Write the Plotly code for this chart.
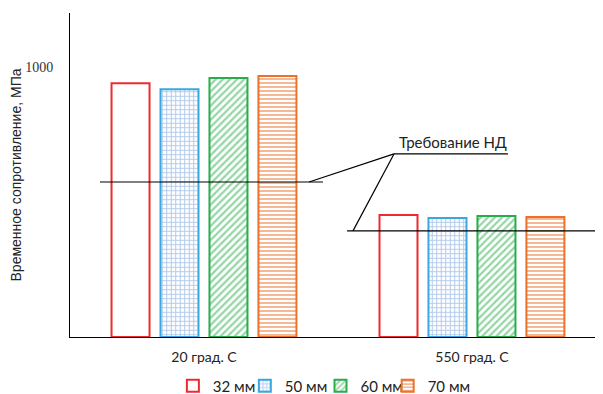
import plotly.graph_objects as go

categories = ["20 град. С", "550 град. С"]
series_names = ["32 мм", "50 мм", "60 мм", "70 мм"]
values_32 = [940, 452]
values_50 = [918, 441]
values_60 = [959, 448]
values_70 = [967, 444]
requirement = [574, 393]
y_tick_vals = [1000]
y_tick_text = ["1000"]
y_title = "Временное сопротивление, МПа"
annotation_text = "Требование НД"

series_values = [values_32, values_50, values_60, values_70]
line_colors = ["#EE2A2E", "#3AA8E0", "#27AE4B", "#EA722A"]
patterns = [
    dict(shape=""),
    dict(shape="+", fgcolor="#5F92D4", bgcolor="white", size=4.5, solidity=0.4),
    dict(shape="/", fgcolor="#27AE4B", bgcolor="white", size=5, solidity=0.45),
    dict(shape="-", fgcolor="#EA722A", bgcolor="white", size=4, solidity=0.5),
]
legend_names = ["legend", "legend2", "legend3", "legend4"]
legend_x = [0.193, 0.328, 0.470, 0.596]

TEXT_FONT = "Lato, 'Open Sans', sans-serif"

fig = go.Figure()
for name, vals, col, pat, lg in zip(series_names, series_values, line_colors, patterns, legend_names):
    fig.add_trace(go.Bar(
        x=categories, y=vals, name=name, legend=lg,
        marker=dict(color="white", line=dict(color=col, width=2), pattern=pat),
    ))

# requirement lines
spans = [(-0.388, 0.444), (-0.466, 0.466)]
for i, (req, (a, b)) in enumerate(zip(requirement, spans)):
    fig.add_shape(type="line", xref="x", yref="y", x0=i + a, x1=i + b, y0=req, y1=req,
                  line=dict(color="black", width=1.2))

# annotation leader lines
hub_x, hub_y = 0.709, 678
fig.add_shape(type="line", xref="x", yref="y", x0=hub_x, x1=1.134, y0=hub_y, y1=hub_y,
              line=dict(color="black", width=1.2))
fig.add_shape(type="line", xref="x", yref="y", x0=0.392, x1=hub_x, y0=requirement[0], y1=hub_y,
              line=dict(color="black", width=1.2))
fig.add_shape(type="line", xref="x", yref="y", x0=0.556, x1=hub_x, y0=requirement[1], y1=hub_y,
              line=dict(color="black", width=1.2))
fig.add_annotation(x=0.929, y=hub_y, xref="x", yref="y", text=annotation_text, showarrow=False,
                   yanchor="bottom", yshift=1, font=dict(family=TEXT_FONT, size=15, color="#222"))

legend_common = dict(orientation="h", xanchor="left", y=-0.151, yanchor="middle",
                     font=dict(family=TEXT_FONT, size=15, color="#222"), bgcolor="rgba(0,0,0,0)")

# page body adds an 8px offset; margins compensate so the plot lands where the reference has it
fig.update_layout(
    width=603, height=394,
    margin=dict(l=62, r=8, t=5, b=65, autoexpand=False),
    plot_bgcolor="white", paper_bgcolor="white",
    barmode="group", bargap=0.269, bargroupgap=0.224,
    showlegend=True,
    legend=dict(x=legend_x[0], **legend_common),
    legend2=dict(x=legend_x[1], **legend_common),
    legend3=dict(x=legend_x[2], **legend_common),
    legend4=dict(x=legend_x[3], **legend_common),
    xaxis=dict(type="category", range=[-0.5, 1.489], showline=True, linecolor="black", linewidth=1,
               showgrid=False, ticks="", ticklabelstandoff=7, automargin=False,
               tickfont=dict(family=TEXT_FONT, size=14, color="#222")),
    yaxis=dict(range=[0, 1200], tickvals=y_tick_vals, ticktext=y_tick_text, automargin=False,
               showline=True, linecolor="black", linewidth=1, showgrid=False, zeroline=False,
               ticks="", ticklabelstandoff=13,
               tickfont=dict(family="'Liberation Serif', 'DejaVu Serif', serif", size=14, color="#333"),
               title=dict(text=y_title, standoff=0,
                          font=dict(family="'Liberation Sans', Arial, sans-serif", size=14, color="#222"))),
)

fig.write_html("out.html")
